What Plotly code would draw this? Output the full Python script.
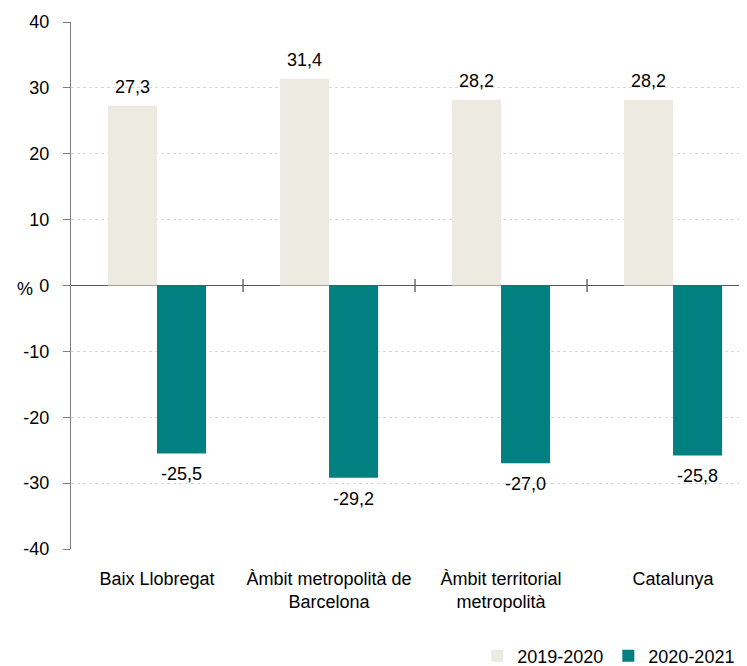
import plotly.graph_objects as go

categories = ["Baix Llobregat", "Àmbit metropolità de<br>Barcelona", "Àmbit territorial<br>metropolità", "Catalunya"]
series_names = ["2019-2020", "2020-2021"]
values_2019_2020 = [27.3, 31.4, 28.2, 28.2]
values_2020_2021 = [-25.5, -29.2, -27.0, -25.8]
y_ticks = [-40, -30, -20, -10, 0, 10, 20, 30, 40]
y_tick_labels = ["-40", "-30", "-20", "-10", "0", "10", "20", "30", "40"]

FONT = "Liberation Sans, Arial, sans-serif"
FS = 18
BARGAP = 0.43

fig = go.Figure()
xs = list(range(len(categories)))
fig.add_trace(go.Bar(
    x=xs, y=values_2019_2020, name=series_names[0],
    marker=dict(color="#EDEBE1", line=dict(width=0)),
))
fig.add_trace(go.Bar(
    x=xs, y=values_2020_2021, name=series_names[1],
    marker=dict(color="#008080", line=dict(width=0)),
))

# value labels placed at bar centers
half = (1 - BARGAP) / 4
for i, v in enumerate(values_2019_2020):
    fig.add_annotation(x=i - half, y=v, xref="x", yref="y", text=f"{v:.1f}".replace(".", ","),
                       showarrow=False, yshift=19 if v >= 0 else -20,
                       font=dict(size=FS, color="#000000", family=FONT))
for i, v in enumerate(values_2020_2021):
    fig.add_annotation(x=i + half, y=v, xref="x", yref="y", text=f"{v:.1f}".replace(".", ","),
                       showarrow=False, yshift=19 if v >= 0 else -21,
                       font=dict(size=FS, color="#000000", family=FONT))

# category separator ticks crossing the zero line
for b in [0.5, 1.5, 2.5]:
    fig.add_shape(type="line", xref="x", yref="y", x0=b, x1=b, y0=-1.0, y1=1.0,
                  line=dict(color="#595959", width=1.3))

fig.add_annotation(text="%", xref="paper", yref="y", x=-0.068, y=-0.6, showarrow=False,
                   font=dict(size=FS, color="#000000", family=FONT), xanchor="center", yanchor="middle")

fig.update_layout(
    width=747, height=666,
    margin=dict(l=63, r=8, t=14, b=125, autoexpand=False),
    paper_bgcolor="white", plot_bgcolor="white",
    barmode="group", bargap=BARGAP, bargroupgap=0,
    font=dict(family=FONT, size=FS, color="#000000"),
    legend=dict(orientation="h", x=0.99, xanchor="right", y=-0.203, yanchor="middle",
                font=dict(size=FS, color="#000000"), traceorder="normal", itemwidth=30),
    showlegend=True,
)
fig.update_xaxes(
    range=[-0.5, 3.43], tickmode="array", tickvals=xs,
    ticktext=categories, showgrid=False, zeroline=False, showline=False,
    tickfont=dict(size=FS, color="#000000"), ticks="", ticklabelstandoff=17,
)
fig.update_yaxes(
    range=[-40, 40], tickmode="array", tickvals=y_ticks, ticktext=y_tick_labels,
    showgrid=True, gridcolor="#D9D9D9", griddash="dot", gridwidth=1,
    zeroline=True, zerolinecolor="#595959", zerolinewidth=1.3,
    showline=True, linecolor="#7F7F7F", linewidth=1.3,
    ticks="outside", ticklen=7, tickcolor="#7F7F7F", tickwidth=1.3,
    tickfont=dict(size=FS, color="#000000"), ticklabelstandoff=10,
)

fig.write_html("out.html")
